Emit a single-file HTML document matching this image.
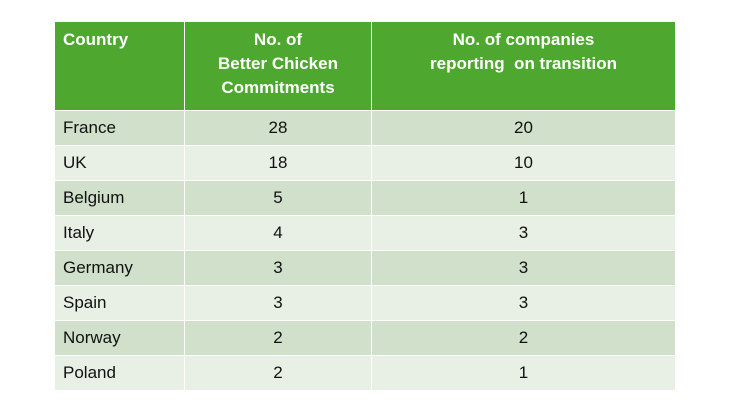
<!DOCTYPE html>
<html><head><meta charset="utf-8"><style>
html,body{margin:0;padding:0;background:#fff;width:730px;height:411px;overflow:hidden}
table{position:absolute;left:54px;top:21px;width:622px;border-collapse:collapse;font-family:"Liberation Sans",sans-serif;font-size:17px;color:#111}
th,td{border:1.5px solid #fff;padding:0}
th{background:#4ea72e;color:#fff;font-weight:bold;height:82px;vertical-align:top;padding-top:6px;line-height:24px}
td{height:34px;text-align:center}
td.c{text-align:left;padding-left:8px}
tr.o td{background:#d0e0cb}
tr.e td{background:#e8f0e5}
</style></head><body>
<table>
<tr>
<th style="width:121px;text-align:left;padding-left:8px">Country</th>
<th style="width:186px">No. of<br>Better Chicken<br>Commitments</th>
<th>No. of companies<br>reporting&nbsp; on transition</th>
</tr>
<tr class="o"><td class="c">France</td><td>28</td><td>20</td></tr>
<tr class="e"><td class="c">UK</td><td>18</td><td>10</td></tr>
<tr class="o"><td class="c">Belgium</td><td>5</td><td>1</td></tr>
<tr class="e"><td class="c">Italy</td><td>4</td><td>3</td></tr>
<tr class="o"><td class="c">Germany</td><td>3</td><td>3</td></tr>
<tr class="e"><td class="c">Spain</td><td>3</td><td>3</td></tr>
<tr class="o"><td class="c">Norway</td><td>2</td><td>2</td></tr>
<tr class="e"><td class="c">Poland</td><td>2</td><td>1</td></tr>
</table>
</body></html>
